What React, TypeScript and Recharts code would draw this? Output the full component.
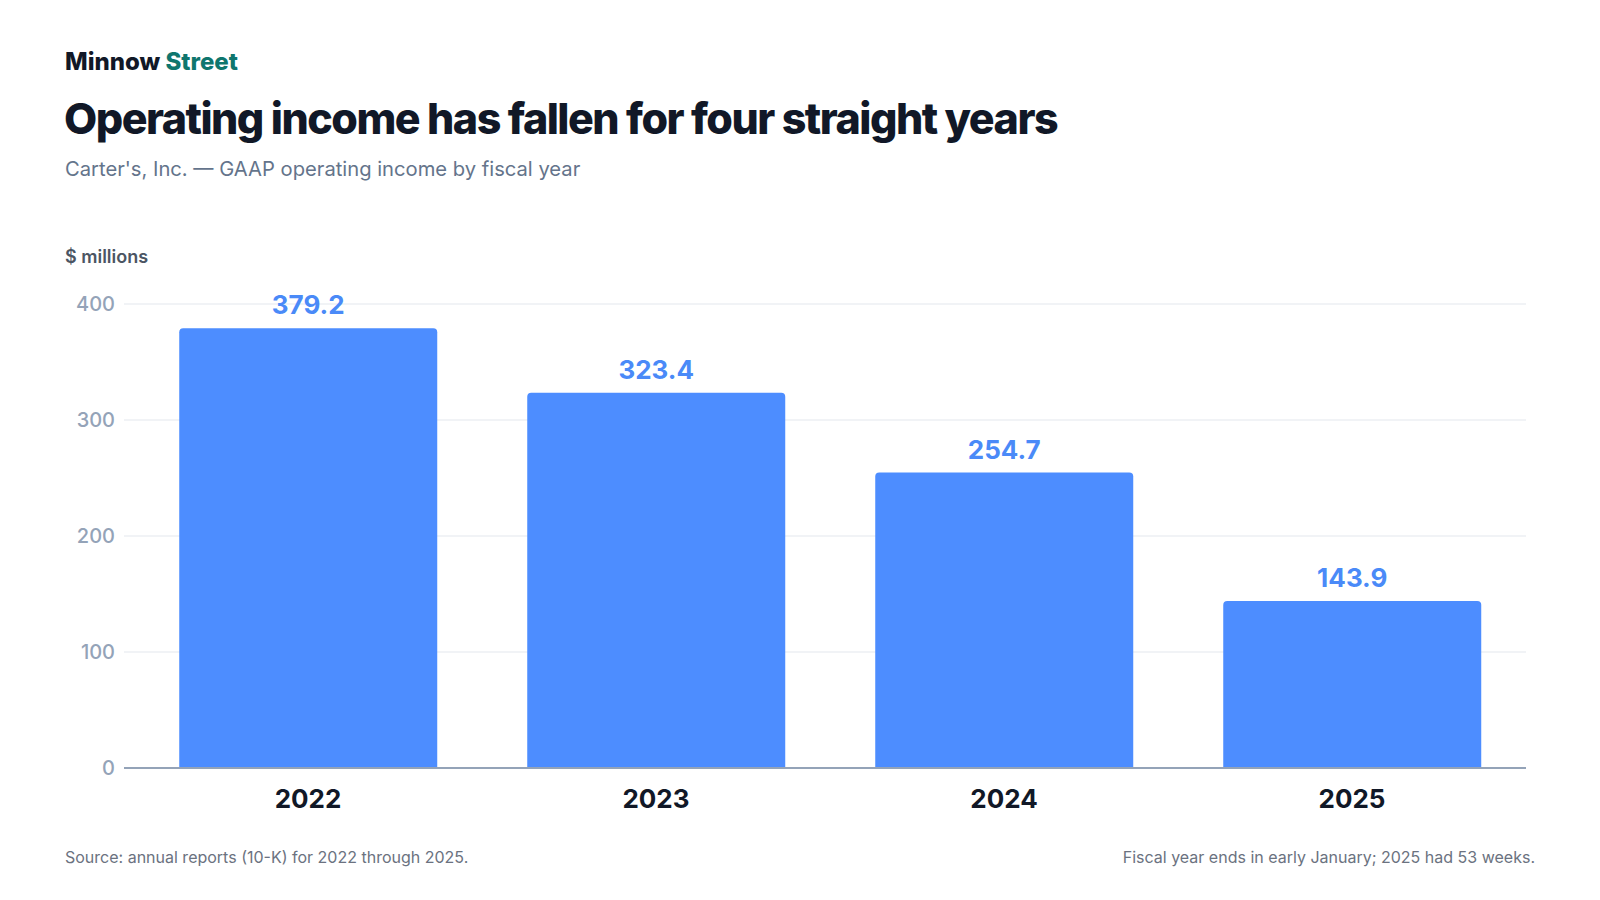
import React from 'react';
import { BarChart, Bar, XAxis, YAxis, CartesianGrid, LabelList } from 'recharts';

const years = ['2022', '2023', '2024', '2025'];
const operatingIncome = [379.2, 323.4, 254.7, 143.9];
const yTicks = [0, 100, 200, 300, 400];

const data = years.map((year, i) => ({ year, value: operatingIncome[i] }));

const FONT = 'Inter, "Noto Sans", sans-serif';

const text = (style: React.CSSProperties): React.CSSProperties => ({
  position: 'absolute',
  margin: 0,
  lineHeight: 1,
  whiteSpace: 'nowrap',
  fontFamily: FONT,
  ...style,
});

const App: React.FC = () => {
  return (
    <div
      style={{
        position: 'absolute',
        left: 0,
        top: 0,
        width: 1600,
        height: 900,
        background: '#ffffff',
        overflow: 'hidden',
        fontFamily: FONT,
      }}
    >
      <div style={text({ left: 65, top: 50, fontSize: 24, fontWeight: 800, color: '#111827', letterSpacing: '0em' })}>
        Minnow <span style={{ color: '#0f766e' }}>Street</span>
      </div>
      <div style={text({ left: 64, top: 97, fontSize: 43, fontWeight: 800, color: '#111827', letterSpacing: '-0.035em' })}>
        Operating income has fallen for four straight years
      </div>
      <div style={text({ left: 65, top: 159, fontSize: 20.2, fontWeight: 400, color: '#64748b' })}>
        Carter's, Inc. — GAAP operating income by fiscal year
      </div>
      <div style={text({ left: 65, top: 248, fontSize: 18, fontWeight: 600, color: '#4b5563' })}>
        $ millions
      </div>

      <div style={{ position: 'absolute', left: 0, top: 0 }}>
        <BarChart
          width={1600}
          height={900}
          data={data}
          margin={{ top: 304, right: 74, bottom: 72, left: 0 }}
          barCategoryGap="13%"
        >
          <CartesianGrid vertical={false} stroke="#eceff3" strokeWidth={1.5} />
          <XAxis
            dataKey="year"
            height={60}
            padding={{ left: 10, right: 0 }}
            tickLine={false}
            tickSize={0}
            tickMargin={22}
            axisLine={{ stroke: '#94a3b8', strokeWidth: 2 }}
            tick={{ fill: '#111827', fontSize: 26, fontWeight: 700, fontFamily: FONT }}
          />
          <YAxis
            width={124}
            domain={[0, 400]}
            ticks={yTicks}
            axisLine={false}
            tickLine={false}
            tickSize={0}
            tickMargin={9}
            tick={{ fill: '#94a3b8', fontSize: 20, fontWeight: 500, fontFamily: FONT }}
          />
          <Bar dataKey="value" fill="#4d8dff" radius={[4, 4, 0, 0]} isAnimationActive={false}>
            <LabelList
              dataKey="value"
              position="top"
              offset={14}
              formatter={(v: number) => v.toFixed(1)}
              style={{ fill: '#4a8af8', fontSize: 26, fontWeight: 700, fontFamily: FONT }}
            />
          </Bar>
        </BarChart>
      </div>

      <div style={text({ left: 65, top: 849, fontSize: 16, color: '#6b7280' })}>
        Source: annual reports (10-K) for 2022 through 2025.
      </div>
      <div style={text({ right: 65, top: 849, fontSize: 16, color: '#6b7280' })}>
        Fiscal year ends in early January; 2025 had 53 weeks.
      </div>
    </div>
  );
};

export default App;
